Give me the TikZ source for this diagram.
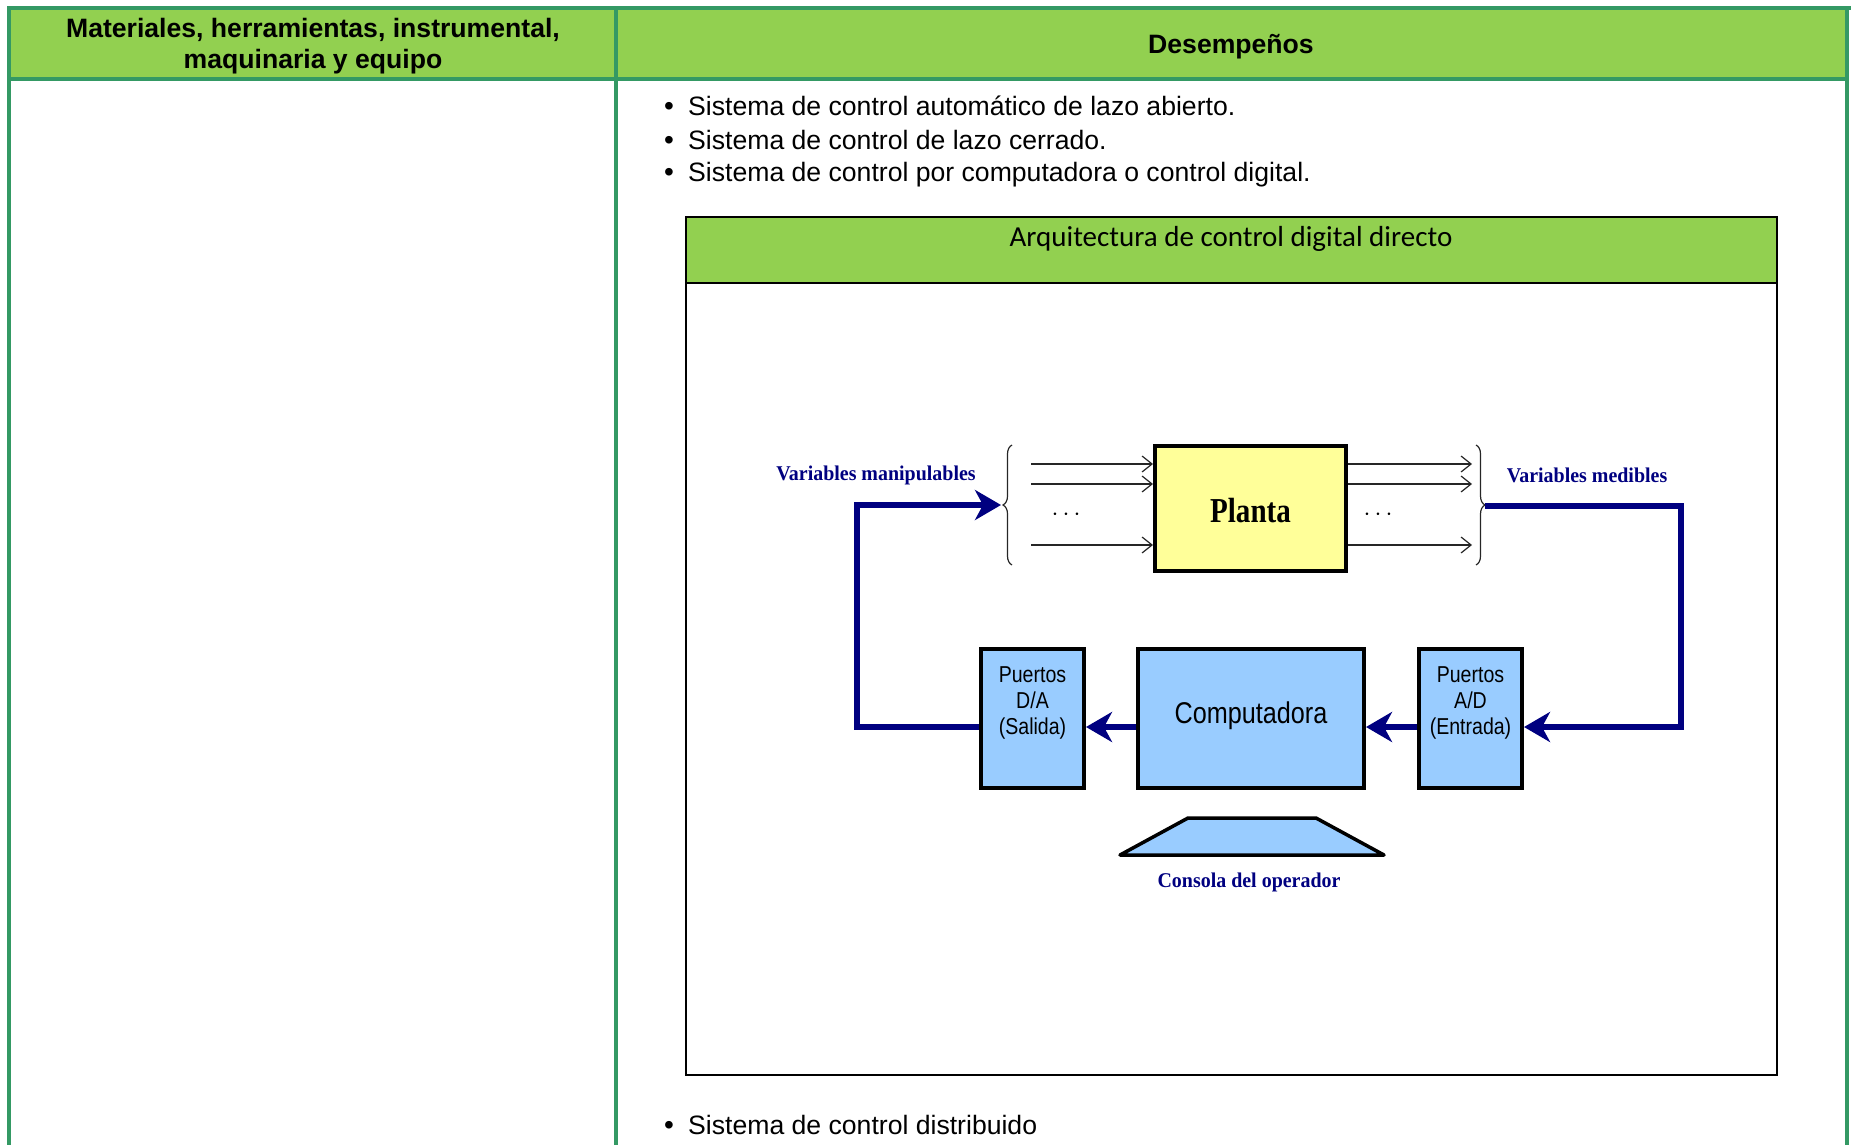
\documentclass[tikz,border=0pt]{standalone}
\usepackage{fontspec}
\usepackage{graphicx}
\setmainfont{Liberation Sans}
\newfontfamily\calfont{Carlito}
\newfontfamily\timesfont{Liberation Serif}
\usetikzlibrary{arrows.meta,decorations.pathreplacing,positioning}

\definecolor{tblgreen}{RGB}{52,153,100}
\definecolor{hdrgreen}{RGB}{146,208,80}
\definecolor{navyline}{RGB}{0,0,128}
\definecolor{plantyellow}{RGB}{255,255,153}
\definecolor{pcblue}{RGB}{153,204,255}

% condensed text, as in the scanned figure
\newcommand{\cond}[2][0.85]{\scalebox{#1}[1]{#2}}

\tikzset{
  tabline/.style={draw=tblgreen,line width=4pt},
  hdrtext/.style={font=\bfseries\fontsize{26.6}{31}\selectfont,align=center,inner sep=0pt},
  itemtext/.style={anchor=base west,inner sep=0pt,font=\fontsize{26.6}{31}\selectfont},
  itemdot/.style={anchor=base,inner sep=0pt,font=\fontsize{28}{31}\selectfont},
  block/.style={draw=black,line width=4pt,inner sep=0pt},
  blocktext/.style={align=center,inner sep=0pt,font=\fontsize{23}{26}\selectfont},
  signal/.style={draw=navyline,line width=6pt,-{Stealth[length=26pt,width=30pt,inset=8pt]}},
  thinarrow/.style={draw=black!85,line width=1.2pt,-{Straight Barb[length=10pt,width=16pt]}},
  varlabel/.style={text=navyline,inner sep=0pt,font=\timesfont\bfseries\fontsize{21}{24}\selectfont},
  bracket/.style={draw=black!85,line width=1.2pt,decorate,decoration={brace,amplitude=9pt}},
  dotsnode/.style={inner sep=0pt,font=\fontsize{26}{26}\selectfont},
}

\begin{document}
\begin{tikzpicture}[x=1pt,y=-1pt]
\useasboundingbox (0,0) rectangle (1851,1145);

% table
\fill[hdrgreen] (9,8) rectangle (1847,79);
\draw[tabline] (7,8) -- (1851,8);
\draw[tabline] (9,79) -- (1847,79);
\foreach \xx in {9,616,1847}
  \draw[tabline] (\xx,8) -- (\xx,1145);
\node[hdrtext] (colmat) at (313,46.5) {Materiales, herramientas, instrumental,\\maquinaria y equipo};
\node[hdrtext] (coldes) at (1231,46.5) {Desempeños};

% bullet list
\foreach \yy/\txt [count=\i] in {116/Sistema de control automático de lazo abierto.,
    149/Sistema de control de lazo cerrado.,
    181/Sistema de control por computadora o control digital.,
    1134/Sistema de control distribuido}
{
  \node[itemdot] (dot\i) at (669,\yy) {\textbullet};
  \node[itemtext] (item\i) at (688,\yy) {\txt};
}

% figure frame
\draw[fill=hdrgreen,line width=2pt] (686,217) rectangle (1777,283);
\draw[line width=2pt] (686,283) rectangle (1777,1075);
\node[font=\calfont\fontsize{29}{34}\selectfont] (title) at (1231,239) {Arquitectura de control digital directo};

% blocks
\node[block,fill=plantyellow,minimum width=191pt,minimum height=125pt] (planta) at (1250.5,508.5) {};
\node[font=\timesfont\bfseries\fontsize{35}{40}\selectfont] (plantatxt) at ([yshift=-2pt]planta.center) {\cond[0.83]{Planta}};
\node[block,fill=pcblue,minimum width=226pt,minimum height=139pt] (comp) at (1251,718.5) {};
\node[font=\fontsize{30}{34}\selectfont] (comptxt) at ([yshift=3pt]comp.center) {\cond[0.84]{Computadora}};
\node[block,fill=pcblue,minimum width=103pt,minimum height=139pt] (pda) at (1032.5,718.5) {};
\node[blocktext] (pdatxt) at ([yshift=16pt]pda.center) {\cond{Puertos}\\\cond{D/A}\\\cond{(Salida)}};
\node[block,fill=pcblue,minimum width=103pt,minimum height=139pt] (pad) at (1470.5,718.5) {};
\node[blocktext] (padtxt) at ([yshift=16pt]pad.center) {\cond{Puertos}\\\cond{A/D}\\\cond{(Entrada)}};

% operator console
\draw[fill=pcblue,line width=3.5pt,line join=round] (1120,855) -- (1188,818) -- (1316,818) -- (1384,855) -- cycle;
\node[varlabel] (consola) at (1249,882) {\cond[0.95]{Consola del operador}};

% plant inputs and outputs
\foreach \yy [count=\i] in {464,484,545} {
  \coordinate (lin\i) at (1031,\yy);
  \coordinate (rout\i) at (1472,\yy);
  \draw[thinarrow] (lin\i) -- (lin\i -| planta.west);
  \draw[thinarrow] (rout\i -| planta.east) -- (rout\i);
}
\node[dotsnode] (ldots) at (1066,515) {$\cdots$};
\node[dotsnode] (rdots) at (1378,515) {$\cdots$};
\draw[bracket] (1012,565) -- (1012,445);
\draw[bracket] (1476,445) -- (1476,565);
\coordinate (lbtip) at (1001,505);
\coordinate (rbtip) at (1485,506);

\node[varlabel] (manip) at (876,475) {\cond[0.95]{Variables manipulables}};
\node[varlabel] (medib) at (1587,475) {\cond[0.95]{Variables medibles}};

% signal loop
\draw[signal] ([yshift=-8.5pt]pda.west) -- ++(-122,0) |- (lbtip);
\draw[signal] (rbtip) -- ++(196,0) |- ([yshift=-8.5pt]pad.east);
\draw[signal] ([yshift=-8.5pt]comp.west) -- ([yshift=-8.5pt]pda.east);
\draw[signal] ([yshift=-8.5pt]pad.west) -- ([yshift=-8.5pt]comp.east);
\end{tikzpicture}
\end{document}
